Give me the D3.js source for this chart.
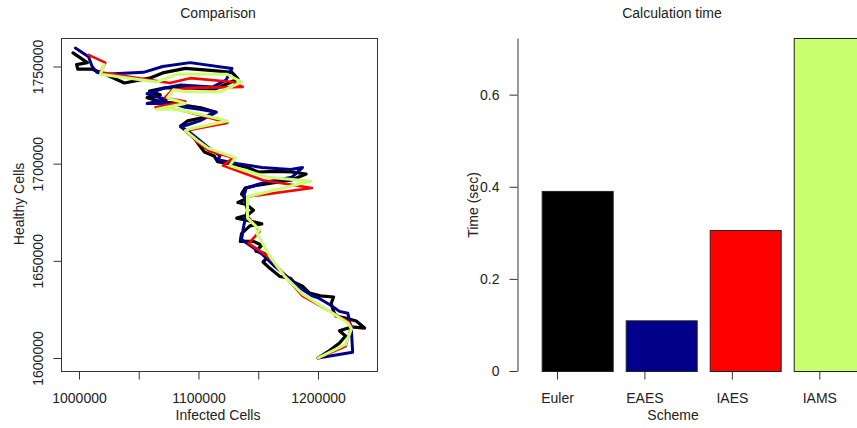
<!DOCTYPE html>
<html>
<head>
<meta charset="utf-8">
<script src="https://cdn.jsdelivr.net/npm/d3@7"></script>
<style>
  body { margin: 0; background: #fff; }
  svg text { font-family: "Liberation Sans", Arial, sans-serif; fill: #222; }
</style>
</head>
<body>
<div id="chart-container"></div>
<script>
// two panels side by side: phase plot of the four schemes, then a bar chart of run time
const svgWidth = 857;
const svgHeight = 428;

// scheme names and colours (R: black, darkblue, red, darkolivegreen1)
const schemes = ["Euler", "EAES", "IAES", "IAMS"];
const schemeColors = ["#000000", "#00008b", "#ff0000", "#caff70"];

// calculation time in seconds
const calcTime = [0.391, 0.110, 0.306, 0.723];

// trajectories, [infected, healthy] in thousands of cells
const eulerPath = [[1200,1600],[1210,1604],[1218,1607.7],[1223,1611.3],[1218,1614],[1228,1616],[1239,1615.4],[1232,1619],
  [1223,1620.6],[1215,1621.6],[1213,1624],[1211,1628],[1213,1631.4],[1202,1632],[1193,1633.4],[1187,1637],[1180,1639],
  [1177,1641],[1168,1642],[1160,1646],[1154,1649.4],[1159,1652.5],[1154,1654],[1148,1655],[1153,1658],[1146,1660],
  [1135,1660],[1136,1664],[1143,1668],[1153,1669],[1143,1670.5],[1132,1672],[1141,1673.6],[1146,1676],[1140,1679],
  [1133,1680],[1140,1682],[1136,1684.4],[1139,1687.5],[1150,1689],[1178,1691.6],[1190,1694.7],[1178,1695.7],[1165,1696],
  [1150,1695.7],[1141,1698],[1126,1700],[1116,1701],[1113,1704],[1105,1706],[1100,1710],[1096,1713.7],[1091,1716],
  [1085,1719.4],[1091,1722],[1106,1724],[1114,1726.6],[1102,1728.7],[1091,1729.7],[1081,1731],[1068,1732],[1057,1734],
  [1068,1735.4],[1059,1737.4],[1072,1739],[1091,1739],[1114,1738.4],[1133,1743.6],[1128,1747],[1110,1748],[1089,1749],
  [1070,1746.7],[1059,1744],[1038,1741.5],[1022,1746],[1011,1748.6],[999,1748.6],[998,1751],[1007,1752],[995,1757]];

const eaesPath = [[1200,1600],[1215,1601.5],[1229,1603],[1228,1614],[1225,1623],[1218,1624],[1211,1627],[1200,1631],
  [1195,1632],[1185,1636],[1172,1643],[1164,1647],[1153,1653.5],[1143,1658],[1136,1661],[1138,1668.4],[1141,1676],
  [1138,1683.4],[1140,1687.5],[1157,1690.6],[1178,1693],[1187,1698],[1177,1697],[1153,1698],[1133,1700],[1116,1702],
  [1118,1704],[1110,1707.5],[1101,1712],[1093,1716],[1085,1719],[1091,1720],[1101,1722],[1115,1726.5],[1101,1728],
  [1089,1729],[1078,1731],[1057,1731],[1073,1733],[1057,1736],[1072,1739],[1085,1740.5],[1112,1739.5],[1123,1743],
  [1128,1749],[1093,1752],[1070,1750],[1054,1747],[1021,1746],[1015,1747],[1011,1750],[1008,1755],[997,1759.5]];

const iaesPath = [[1200,1600],[1223,1606],[1228,1616.5],[1226,1618.5],[1187,1632],[1174,1641],[1160,1651.5],[1142,1659],
  [1151,1665],[1149,1667],[1141,1673],[1141,1683],[1195,1687.5],[1154,1691.5],[1120.5,1699],[1129,1703],[1109,1706.5],
  [1100,1710.6],[1089,1717],[1124,1721],[1104,1724.5],[1082,1728],[1064,1729],[1089,1732],[1072,1734],[1078,1738],
  [1095,1739],[1137,1739.5],[1129,1742],[1093,1744],[1076,1741.5],[1018,1747],[1022,1752],[1008,1756]];

const iamsPath = [[1200,1600],[1223,1607],[1228,1615],[1225,1618],[1187,1633],[1172,1642],[1160,1652],[1149,1664],
  [1151,1666],[1141,1672],[1141,1683],[1194,1691],[1158,1693],[1126,1699],[1131,1703],[1108,1708],[1099,1712],
  [1089,1717],[1093,1718],[1124,1722],[1104,1725],[1081,1728],[1065,1728],[1089,1731],[1074,1734],[1079,1738],
  [1090,1737],[1118,1737],[1136,1742],[1124,1746],[1082,1746],[1065,1742],[1018,1746],[1021,1751]];

const xTicks = [1000000, 1050000, 1100000, 1150000, 1200000];
const yTicks = [1600000, 1650000, 1700000, 1750000];
const timeTicks = [0, 0.2, 0.4, 0.6];

const svg = d3.select("#chart-container")
    .append("svg")
    .attr("width", svgWidth)
    .attr("height", svgHeight);

// ---------- left panel: Comparison ----------
const box = { left: 61, right: 377, top: 38, bottom: 371 };

const x = d3.scaleLinear().domain([1000000, 1200000]).range([79, 318]);
const y = d3.scaleLinear().domain([1600000, 1750000]).range([358, 66.5]);

const left = svg.append("g");

// trajectories, drawn in order so IAMS ends on top
const paths = [eulerPath, eaesPath, iaesPath, iamsPath];
const widths = [3.2, 3, 2.6, 3];
const line = d3.line()
    .x(d => x(d[0] * 1000))
    .y(d => y(d[1] * 1000));

left.selectAll(".traj")
    .data(paths)
    .enter()
    .append("path")
    .attr("class", "traj")
    .attr("d", d => line(d))
    .attr("fill", "none")
    .attr("stroke", (d, i) => schemeColors[i])
    .attr("stroke-width", (d, i) => widths[i])
    .attr("stroke-linejoin", "round")
    .attr("stroke-linecap", "round");

left.append("rect")
    .attr("x", box.left + 0.5)
    .attr("y", box.top + 0.5)
    .attr("width", box.right - box.left)
    .attr("height", box.bottom - box.top)
    .attr("fill", "none")
    .attr("stroke", "#333");

const xAxis = left.append("g")
    .attr("transform", `translate(0, ${box.bottom + 0.5})`)
    .call(d3.axisBottom(x).tickValues(xTicks).tickSize(8).tickPadding(14)
        .tickFormat(d => d % 100000 === 0 ? d3.format("d")(d) : ""));

const yAxis = left.append("g")
    .attr("transform", `translate(${box.left + 0.5}, 0)`)
    .call(d3.axisLeft(y).tickValues(yTicks).tickSize(8).tickFormat(d3.format("d")));

// R puts y labels parallel to the axis
yAxis.selectAll("text")
    .attr("transform", "rotate(-90)")
    .attr("x", 0)
    .attr("y", -19)
    .attr("dy", 0)
    .attr("text-anchor", "middle");

left.append("text")
    .text("Comparison")
    .attr("x", 218)
    .attr("y", 18)
    .attr("text-anchor", "middle")
    .style("font-size", "14px");

left.append("text")
    .text("Infected Cells")
    .attr("x", 218)
    .attr("y", 420)
    .attr("text-anchor", "middle")
    .style("font-size", "14px");

left.append("text")
    .text("Healthy Cells")
    .attr("transform", "translate(24, 204) rotate(-90)")
    .attr("text-anchor", "middle")
    .style("font-size", "14px");

// ---------- right panel: Calculation time ----------
const yR = d3.scaleLinear().domain([0, 0.723]).range([371, 38]);

const xBar = d3.scaleBand()
    .domain(schemes)
    .range([541.7, 864.7])
    .paddingInner(0.155)
    .paddingOuter(0);

// axis ticks in the original do not sit under the bar centres
const xTick = d3.scalePoint()
    .domain(schemes)
    .range([557, 819.3]);

const right = svg.append("g");

right.selectAll(".bar")
    .data(schemes)
    .enter()
    .append("rect")
    .attr("class", "bar")
    .attr("x", d => xBar(d) + 0.5)
    .attr("y", (d, i) => yR(calcTime[i]) + 0.5)
    .attr("width", xBar.bandwidth())
    .attr("height", (d, i) => yR(0) - yR(calcTime[i]))
    .attr("fill", (d, i) => schemeColors[i])
    .attr("stroke", "#222")
    .attr("stroke-width", 1);

right.append("g")
    .attr("transform", "translate(517.5, 0)")
    .call(d3.axisLeft(yR).tickValues(timeTicks).tickSize(8).tickSizeOuter(0).tickPadding(10)
        .tickFormat(d => d === 0 ? "0" : d3.format(".1f")(d)));

const xAxisR = right.append("g")
    .attr("transform", `translate(0, ${371.5})`)
    .call(d3.axisBottom(xTick).tickSize(8).tickPadding(14));
xAxisR.select(".domain").remove();

right.append("text")
    .text("Calculation time")
    .attr("x", 672)
    .attr("y", 18)
    .attr("text-anchor", "middle")
    .style("font-size", "14px");

right.append("text")
    .text("Scheme")
    .attr("x", 673)
    .attr("y", 420)
    .attr("text-anchor", "middle")
    .style("font-size", "14px");

right.append("text")
    .text("Time (sec)")
    .attr("transform", "translate(478, 205) rotate(-90)")
    .attr("text-anchor", "middle")
    .style("font-size", "14px");

// shared axis styling
svg.selectAll(".tick text").style("font-size", "14px").attr("font-family", null);
svg.selectAll(".tick line").attr("stroke", "#333");
svg.selectAll(".domain").attr("stroke", "#333");
xAxis.select(".domain").remove();
yAxis.select(".domain").remove();
</script>
</body>
</html>
